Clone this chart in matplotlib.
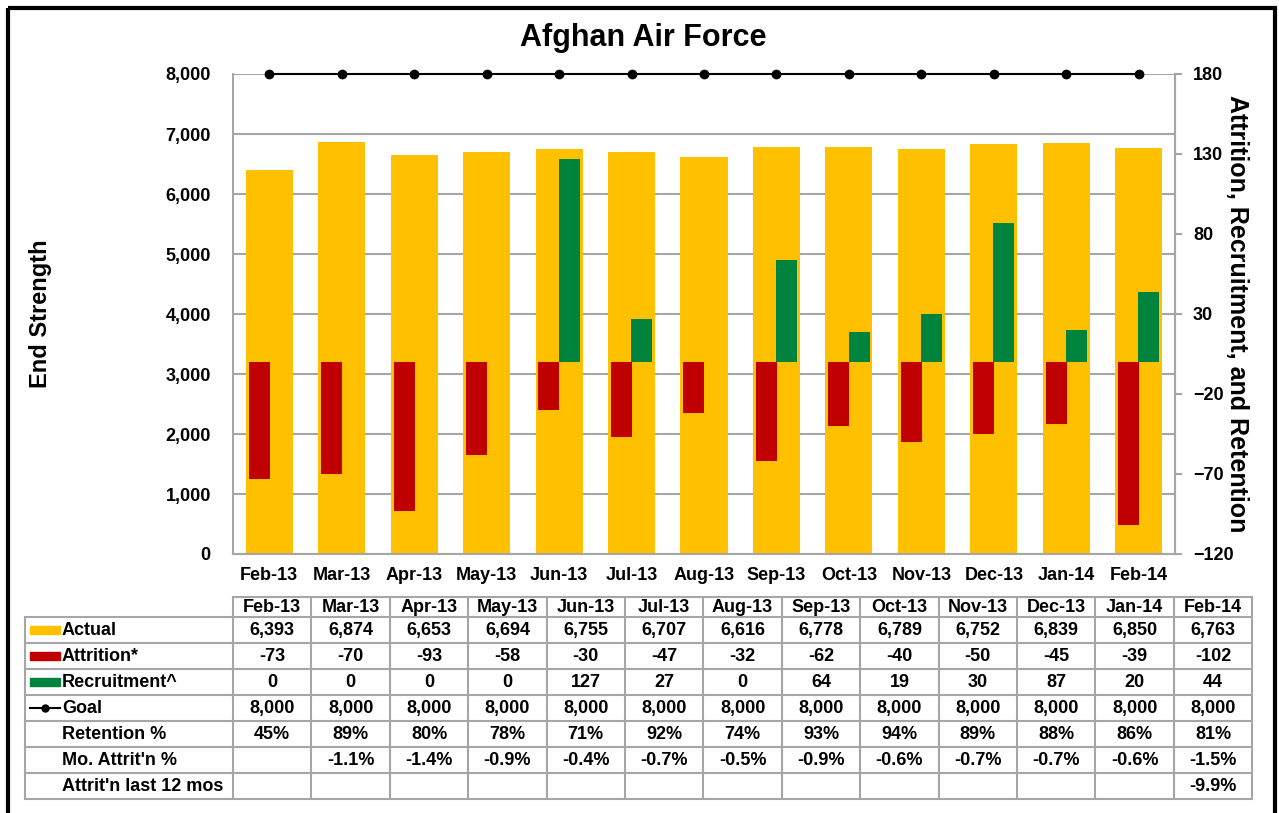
import numpy as np
import matplotlib.pyplot as plt
from matplotlib.patches import Rectangle
from matplotlib.lines import Line2D

plt.rcParams['font.family'] = ['Liberation Sans', 'DejaVu Sans']
plt.rcParams['font.weight'] = 'bold'

months = ['Feb-13', 'Mar-13', 'Apr-13', 'May-13', 'Jun-13', 'Jul-13', 'Aug-13',
          'Sep-13', 'Oct-13', 'Nov-13', 'Dec-13', 'Jan-14', 'Feb-14']
actual = [6393, 6874, 6653, 6694, 6755, 6707, 6616, 6778, 6789, 6752, 6839, 6850, 6763]
attrition = [-73, -70, -93, -58, -30, -47, -32, -62, -40, -50, -45, -39, -102]
recruitment = [0, 0, 0, 0, 127, 27, 0, 64, 19, 30, 87, 20, 44]
goal = [8000] * 13
retention = [45, 89, 80, 78, 71, 92, 74, 93, 94, 89, 88, 86, 81]
mo_attrit = [None, -1.1, -1.4, -0.9, -0.4, -0.7, -0.5, -0.9, -0.6, -0.7, -0.7, -0.6, -1.5]
last12 = [None] * 12 + [-9.9]

YELLOW = '#FFC000'
RED = '#C00000'
GREEN = '#00843D'
GRAY = '#A6A6A6'

W, H = 1279, 813
fig = plt.figure(figsize=(W / 100, H / 100), dpi=100)

# main chart area (pixel layout)
L, R, T, B = 233, 1175, 74, 554
ax = fig.add_axes([L / W, 1 - B / H, (R - L) / W, (B - T) / H])
x = np.arange(len(months))

ax.bar(x, actual, width=0.65, color=YELLOW, zorder=2)
ax.plot(x, goal, color='black', lw=1.5, marker='o', ms=6, clip_on=False, zorder=5)
ax.set_ylim(0, 8000)
ax.set_xlim(-0.5, len(months) - 0.5)
ax.set_yticks(range(0, 8001, 1000))
ax.set_yticklabels([f'{v:,}' for v in range(0, 8001, 1000)])
ax.set_xticks(x)
ax.set_xticklabels(months)
ax.yaxis.grid(True, color=GRAY, lw=1.5)
ax.set_axisbelow(True)
ax.tick_params(axis='y', length=0, labelsize=13, pad=16)
ax.tick_params(axis='x', length=0, labelsize=13, pad=9)
ax.spines['top'].set_visible(False)
for s in ['left', 'right', 'bottom']:
    ax.spines[s].set_color(GRAY)
    ax.spines[s].set_linewidth(1.5)
ax.set_ylabel('End Strength', fontsize=17, fontweight='bold', labelpad=82)

ax2 = ax.twinx()
ax2.bar(x - 0.14, attrition, width=0.29, color=RED, zorder=3)
ax2.bar(x + 0.14, recruitment, width=0.29, color=GREEN, zorder=3)
ax2.set_ylim(-120, 180)
ax2.set_yticks(range(-120, 181, 50))
ax2.tick_params(axis='y', length=5, color=GRAY, width=1.5, labelsize=13, pad=8)
for s in ['top', 'left', 'bottom']:
    ax2.spines[s].set_visible(False)
ax2.spines['right'].set_color(GRAY)
ax2.spines['right'].set_linewidth(1.5)
ax2.set_ylabel('Attrition, Recruitment, and Retention', fontsize=18,
               fontweight='bold', rotation=270, labelpad=11)

fig.text(643 / W, 1 - 38 / H, 'Afghan Air Force', ha='center', va='center',
         fontsize=22, fontweight='bold')

# data table below the chart, drawn in pixel coordinates
ov = fig.add_axes([0, 0, 1, 1])
ov.set_xlim(0, W)
ov.set_ylim(H, 0)
ov.axis('off')

t_left, t_lab = 25, 233
col_w = 78.4
n = len(months)
t_right = t_lab + col_w * n
hdr_top, hdr_bot, row_h = 597, 617, 26
rows = 7
t_bot = hdr_bot + rows * row_h
lc = dict(color=GRAY, lw=1.5)

ov.plot([t_lab, t_right], [hdr_top, hdr_top], **lc)
for r in range(rows + 1):
    y = hdr_bot + r * row_h
    ov.plot([t_left, t_right], [y, y], **lc)
ov.plot([t_left, t_left], [hdr_bot, t_bot], **lc)
for c in range(n + 1):
    xc = t_lab + c * col_w
    ov.plot([xc, xc], [hdr_top, t_bot], **lc)

fs = 13
for c, m in enumerate(months):
    ov.text(t_lab + (c + 0.5) * col_w, (hdr_top + hdr_bot) / 2, m,
            ha='center', va='center', fontsize=fs)

labels = ['Actual', 'Attrition*', 'Recruitment^', 'Goal', 'Retention %',
          "Mo. Attrit'n %", "Attrit'n last 12 mos"]
cells = [
    [f'{v:,}' for v in actual],
    [f'{v}' for v in attrition],
    [f'{v}' for v in recruitment],
    [f'{v:,}' for v in goal],
    [f'{v}%' for v in retention],
    ['' if v is None else f'{v:.1f}%' for v in mo_attrit],
    ['' if v is None else f'{v:.1f}%' for v in last12],
]
swatches = [YELLOW, RED, GREEN]
for r in range(rows):
    yc = hdr_bot + (r + 0.5) * row_h
    ov.text(62, yc, labels[r], ha='left', va='center', fontsize=fs)
    if r < 3:
        ov.add_patch(Rectangle((30, yc - 4), 30, 8, color=swatches[r]))
    elif r == 3:
        ov.add_line(Line2D([30, 60], [yc, yc], color='black', lw=1.5))
        ov.plot([45], [yc], 'o', color='black', ms=5)
    for c in range(n):
        ov.text(t_lab + (c + 0.5) * col_w, yc, cells[r][c],
                ha='center', va='center', fontsize=fs)

# outer frame
ov.add_patch(Rectangle((8, 8), 1267, 820, fill=False, ec='black', lw=3, clip_on=False))

fig.savefig('out.png', dpi=100)
